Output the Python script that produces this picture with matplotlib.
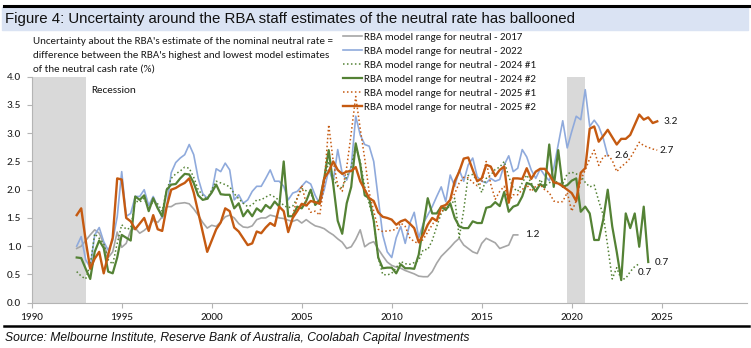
import numpy as np
import matplotlib
matplotlib.use("Agg")
import matplotlib.pyplot as plt
from matplotlib import font_manager
from matplotlib.lines import Line2D
from matplotlib.patches import Rectangle

# ---------------------------------------------------------------- data
# Quarterly series (spread between highest and lowest RBA model estimate, %)
start_2017 = 1992.5
range_2017 = [
    0.96, 1.00,
    1.10, 1.20, 1.29, 1.23,
    1.05, 0.80, 0.90, 1.25,
    0.98, 1.05, 1.28, 1.32,
    1.23, 1.28, 1.35, 1.46,
    1.42, 1.52, 1.70, 1.70,
    1.75, 1.76, 1.77, 1.75,
    1.66, 1.55, 1.42, 1.32,
    1.37, 1.35, 1.43, 1.52,
    1.55, 1.50, 1.40, 1.34,
    1.33, 1.36, 1.47, 1.50,
    1.50, 1.55, 1.53, 1.50,
    1.49, 1.46, 1.44, 1.47,
    1.41, 1.47, 1.41, 1.36,
    1.34, 1.31, 1.25, 1.20,
    1.13, 1.07, 0.96, 0.99,
    1.12, 1.29, 0.99, 1.05,
    1.08, 0.95, 0.83, 0.72,
    0.66, 0.63, 0.61, 0.57,
    0.54, 0.51, 0.47, 0.46,
    0.46, 0.55, 0.70, 0.82,
    0.90, 0.98, 1.07, 1.14,
    1.02, 0.96, 0.90, 0.87,
    1.05, 1.14, 1.10, 1.06,
    0.96, 0.99, 1.02, 1.20,
    1.20,
]

start_2022 = 1992.5
range_2022 = [
    1.00, 1.17,
    0.76, 0.62, 1.20, 1.33,
    1.08, 0.93, 1.10, 1.52,
    2.32, 1.53, 1.58, 1.88,
    1.88, 2.00, 1.72, 1.88,
    1.70, 1.50, 1.70, 2.30,
    2.48, 2.56, 2.62, 2.80,
    2.62, 2.20, 1.93, 1.85,
    1.95, 2.37, 2.32, 2.47,
    2.35, 1.82, 1.91, 1.76,
    1.82, 1.97, 2.06, 2.06,
    2.20, 2.35, 2.15, 2.15,
    2.06, 1.82, 1.94, 1.97,
    2.06, 2.15, 2.10, 1.90,
    1.75, 2.00, 2.35, 2.15,
    2.71, 2.29, 2.17, 2.40,
    3.30, 2.97, 2.80, 2.77,
    2.50, 1.85, 1.20, 0.90,
    0.80, 1.15, 1.35, 1.05,
    1.40, 1.60, 1.15, 1.40,
    1.55, 1.70, 1.88, 2.05,
    1.79, 2.26, 2.06, 2.35,
    2.15, 2.44, 2.56, 2.23,
    2.15, 2.12, 2.20, 2.15,
    2.18, 2.44, 2.60, 2.32,
    2.38, 2.71, 2.58, 2.35,
    2.20, 2.37, 2.25, 2.16,
    2.38, 2.80, 3.22, 2.74,
    3.03, 3.30, 3.24, 3.77,
    3.12, 3.23, 3.12, 2.91,
    2.60,
]

start_2024_1 = 1992.5
range_2024_1 = [
    0.55, 0.47,
    0.42, 0.67, 1.22, 1.14,
    1.05, 0.76, 0.68, 1.05,
    1.38, 1.30, 1.32, 1.80,
    1.78, 1.85, 1.65, 1.80,
    1.75, 1.62, 2.00, 2.20,
    2.28, 2.33, 2.40, 2.38,
    2.22, 2.00, 1.90, 1.82,
    2.00, 2.15, 2.12, 2.09,
    2.05, 1.93, 1.84, 1.76,
    1.70, 1.73, 1.82, 1.82,
    1.87, 1.91, 1.87, 1.81,
    1.72, 1.68, 1.71, 1.85,
    2.02, 1.98, 1.93, 1.78,
    1.79, 2.15, 2.50, 2.20,
    2.06, 2.03, 2.23, 2.41,
    2.77, 2.50, 2.05, 1.75,
    1.45, 0.80, 0.50, 0.49,
    0.52, 0.62, 0.73, 0.69,
    0.68, 0.71, 0.75, 0.94,
    0.94, 1.10, 1.35, 1.58,
    1.70, 1.68, 1.85, 1.15,
    1.64, 2.25, 2.27, 2.15,
    1.95, 2.20, 2.26, 2.36,
    2.40, 2.50, 2.23, 2.03,
    1.97, 2.12, 2.26, 2.12,
    1.97, 2.18, 2.06, 2.12,
    2.17, 2.12, 2.10, 2.28,
    2.31, 2.28, 2.24, 2.13,
    2.05, 2.08, 1.80, 1.55,
    1.00, 0.42, 0.62, 0.41,
    0.43, 0.55, 0.64, 0.69,
]

start_2024_2 = 1992.5
range_2024_2 = [
    0.80, 0.79,
    0.60, 0.42, 0.90, 1.10,
    0.97, 0.55, 0.52, 0.80,
    1.20, 1.15, 1.10, 1.88,
    1.82, 1.90, 1.62, 1.85,
    1.67, 1.53, 2.00, 2.09,
    2.10, 2.20, 2.28, 2.27,
    2.12, 1.90, 1.82, 1.84,
    1.95, 2.09, 1.92, 1.91,
    1.91, 1.67, 1.76, 1.53,
    1.64, 1.53, 1.67, 1.61,
    1.73, 1.67, 1.79, 1.70,
    2.50, 1.53, 1.53, 1.70,
    1.67, 1.80, 2.00, 1.73,
    1.82, 2.20, 2.70, 2.10,
    1.45, 1.22, 1.76, 2.05,
    2.82, 2.45, 1.90, 1.85,
    1.45, 0.80, 0.61, 0.62,
    0.62, 0.52, 0.68, 0.61,
    0.61, 0.60, 0.85, 1.35,
    1.85, 1.58, 1.58, 1.70,
    1.64, 1.76, 1.50, 1.35,
    1.32, 1.32, 1.44, 1.41,
    1.41, 1.68, 1.70, 1.78,
    1.71, 1.96, 1.61, 1.70,
    1.73, 1.88, 2.12, 2.09,
    1.97, 2.10, 2.04, 2.80,
    2.05, 2.70, 2.05, 2.08,
    2.16, 2.20, 1.61, 1.70,
    1.58, 1.11, 1.11, 1.47,
    2.00, 1.35, 0.90, 0.40,
    1.58, 1.32, 1.58, 0.99,
    1.70, 0.72,
]

start_2025_1 = 2004.5
range_2025_1 = [
    1.55, 1.85,
    2.08, 1.75, 1.60, 1.62,
    1.55, 2.10, 3.15, 2.50,
    2.08, 1.97, 2.40, 3.00,
    3.65, 3.08, 2.55, 1.95,
    1.62, 1.30, 1.26, 1.27,
    1.28, 1.30, 1.41, 1.35,
    1.15, 1.08, 1.05, 1.12,
    1.25, 1.38, 1.50, 1.60,
    1.70, 1.82, 1.93, 2.12,
    2.22, 2.21, 2.13, 2.07,
    2.12, 2.50, 2.10, 1.83,
    1.97, 2.06, 1.79, 1.91,
    1.91, 2.00, 2.09, 1.97,
    2.06, 2.09, 2.00, 1.95,
    1.80, 1.78, 1.79, 1.95,
    1.62, 1.80, 2.17, 2.35,
    2.55, 2.70, 2.43, 2.58,
    2.62, 2.52, 2.32, 2.41,
    2.47, 2.56, 2.70, 2.84,
    2.78, 2.75, 2.72, 2.70,
]

start_2025_2 = 1992.5
range_2025_2 = [
    1.55, 1.67,
    1.10, 0.60, 0.78, 0.90,
    0.52, 0.85, 1.15, 2.20,
    2.18, 1.50, 1.44, 1.30,
    1.40, 1.50, 1.27, 1.55,
    1.30, 1.27, 1.70, 2.00,
    2.03, 2.08, 2.12, 2.20,
    1.95, 1.60, 1.25, 0.90,
    1.10, 1.30, 1.42, 1.67,
    1.62, 1.33, 1.26, 1.14,
    1.02, 1.05, 1.26, 1.23,
    1.33, 1.41, 1.36, 1.70,
    1.62, 1.25, 1.50, 1.62,
    1.75, 1.72, 1.80, 1.78,
    1.75, 2.20, 2.32, 2.50,
    2.35, 2.28, 2.32, 2.33,
    2.40, 2.15, 2.00, 1.85,
    1.80, 1.60, 1.52, 1.50,
    1.47, 1.38, 1.44, 1.47,
    1.40, 1.32, 1.07, 1.20,
    1.38, 1.50, 1.45, 1.70,
    1.73, 1.82, 2.15, 2.32,
    2.55, 2.57, 2.35, 2.15,
    2.20, 2.44, 2.41, 2.24,
    2.35, 2.41, 1.77, 2.20,
    2.20, 2.19, 2.38, 2.19,
    2.32, 2.37, 2.37, 2.27,
    2.13, 2.11, 2.06, 2.00,
    1.94, 1.80, 2.30, 2.38,
    3.08, 3.12, 2.85, 2.95,
    3.06, 2.93, 2.80, 2.90,
    2.90, 2.97, 3.15, 3.33,
    3.24, 3.28, 3.18, 3.21,
]

series_labels = [
    "RBA model range for neutral - 2017",
    "RBA model range for neutral - 2022",
    "RBA model range for neutral - 2024 #1",
    "RBA model range for neutral - 2024 #2",
    "RBA model range for neutral - 2025 #1",
    "RBA model range for neutral - 2025 #2",
]

recessions = [(1990.0, 1993.0), (2019.75, 2020.75)]
x_ticks = [1990, 1995, 2000, 2005, 2010, 2015, 2020, 2025]
y_ticks = [0.0, 0.5, 1.0, 1.5, 2.0, 2.5, 3.0, 3.5, 4.0]

# ---------------------------------------------------------------- fonts
installed = {f.name for f in font_manager.fontManager.ttflist}


def pick(*names):
    for n in names:
        if n in installed:
            return n
    return "DejaVu Sans"


BODY = pick("Carlito", "Lato", "Liberation Sans", "DejaVu Sans")
HEAD = pick("Liberation Sans", "Roboto", "DejaVu Sans")
plt.rcParams["font.family"] = [BODY, "DejaVu Sans"]

W, H = 751, 348
fig = plt.figure(figsize=(W / 100, H / 100), dpi=100)
renderer = fig.canvas.get_renderer()


def fx(px):
    return px / W


def fy(py):
    return 1 - py / H


def fitted_size(s, family, target_px, **kw):
    t = fig.text(0, 0, s, family=family, fontsize=10, **kw)
    w = t.get_window_extent(renderer).width
    t.remove()
    return 10 * target_px / w


# ---------------------------------------------------------------- header / footer
fig.patches.append(Rectangle((fx(2), fy(30)), fx(746), 23 / H,
                             transform=fig.transFigure, color="#dae3f3", zorder=0))
fig.add_artist(Line2D([fx(4), fx(749)], [fy(6), fy(6)], color="black", lw=2.2))
fig.add_artist(Line2D([fx(4), fx(749)], [fy(326), fy(326)], color="black", lw=1.8))

title = "Figure 4: Uncertainty around the RBA staff estimates of the neutral rate has ballooned"
fig.text(fx(5), fy(19), title, family=HEAD, va="center", ha="left",
         fontsize=fitted_size(title, HEAD, 573), color="#111111")

source = "Source: Melbourne Institute, Reserve Bank of Australia, Coolabah Capital Investments"
fig.text(fx(5), fy(338), source, family=HEAD, style="italic", va="center", ha="left",
         fontsize=fitted_size(source, HEAD, 463, style="italic"), color="#111111")

note_lines = [
    "Uncertainty about the RBA's estimate of the nominal neutral rate =",
    "difference between the RBA's highest and lowest model estimates",
    "of the neutral cash rate (%)",
]
note_size = fitted_size(note_lines[0], BODY, 301)
for i, line in enumerate(note_lines):
    fig.text(fx(33), fy(41.7 + i * 13.8), line, va="center", ha="left",
             fontsize=note_size, color="#1a1a1a")

# ---------------------------------------------------------------- axes
ax = fig.add_axes([fx(31.7), fy(302.7), (746.7 - 31.7) / W, (302.7 - 76.7) / H])
ax.set_xlim(1990, 2029.72)
ax.set_ylim(0, 4)

for a, b in recessions:
    ax.axvspan(a, b, color="#d9d9d9", lw=0, zorder=0)


def quarters(start, values):
    return start + 0.25 * np.arange(len(values))


styles = [
    dict(color="#a6a6a6", lw=1.2, ls="-"),
    dict(color="#8faadc", lw=1.2, ls="-"),
    dict(color="#548235", lw=1.1, ls=(0, (1, 1.6))),
    dict(color="#548235", lw=1.6, ls="-"),
    dict(color="#c55a11", lw=1.1, ls=(0, (1, 1.6))),
    dict(color="#c55a11", lw=1.7, ls="-"),
]
data = [
    (start_2017, range_2017),
    (start_2022, range_2022),
    (start_2024_1, range_2024_1),
    (start_2024_2, range_2024_2),
    (start_2025_1, range_2025_1),
    (start_2025_2, range_2025_2),
]
handles = []
for (st, vals), sty, lab in zip(data, styles, series_labels):
    h, = ax.plot(quarters(st, vals), vals, label=lab, zorder=3,
                 solid_joinstyle="round", **sty)
    handles.append(h)

# end-of-series value labels
lab_size = note_size * 1.02
end_labels = [
    (2017.4, range_2017[-1], range_2017[-1]),
    (2022.37, range_2022[-1], range_2022[-1]),
    (2024.85, range_2025_1[-1], range_2025_1[-1]),
    (2025.07, range_2025_2[-1], range_2025_2[-1]),
    (2024.6, range_2024_2[-1], range_2024_2[-1]),
    (2023.65, range_2024_1[-1] - 0.15, range_2024_1[-1]),
]
for x, y, v in end_labels:
    ax.text(x, y, f"{v:.1f}", va="center", ha="left", fontsize=lab_size,
            color="#1a1a1a", zorder=5)

ax.text(1993.3, 3.75, "Recession", va="center", ha="left", fontsize=lab_size,
        color="#1a1a1a")

# spines and ticks
for side in ("top", "right"):
    ax.spines[side].set_visible(False)
for side in ("left", "bottom"):
    ax.spines[side].set_color("#b4b4b4")
    ax.spines[side].set_linewidth(0.8)
ax.set_xticks(x_ticks)
ax.set_xticklabels([str(t) for t in x_ticks])
ax.set_yticks(y_ticks)
ax.set_yticklabels([f"{t:.1f}" for t in y_ticks])
ax.tick_params(axis="both", direction="out", length=3.6, width=0.8,
               color="#b4b4b4", labelsize=note_size * 1.02, labelcolor="#1a1a1a")
ax.tick_params(axis="y", pad=4.2)
ax.tick_params(axis="x", pad=3.5)

# legend
leg_size = fitted_size(series_labels[0], BODY, 159)
leg = fig.legend(handles=handles, loc="upper left",
                 bbox_to_anchor=(fx(343), fy(32.5)), frameon=False,
                 fontsize=leg_size, handlelength=1.75, handletextpad=0.2,
                 borderpad=0, borderaxespad=0, labelspacing=0.38)
for t in leg.get_texts():
    t.set_color("#1a1a1a")

fig.savefig("out.png", dpi=100)
